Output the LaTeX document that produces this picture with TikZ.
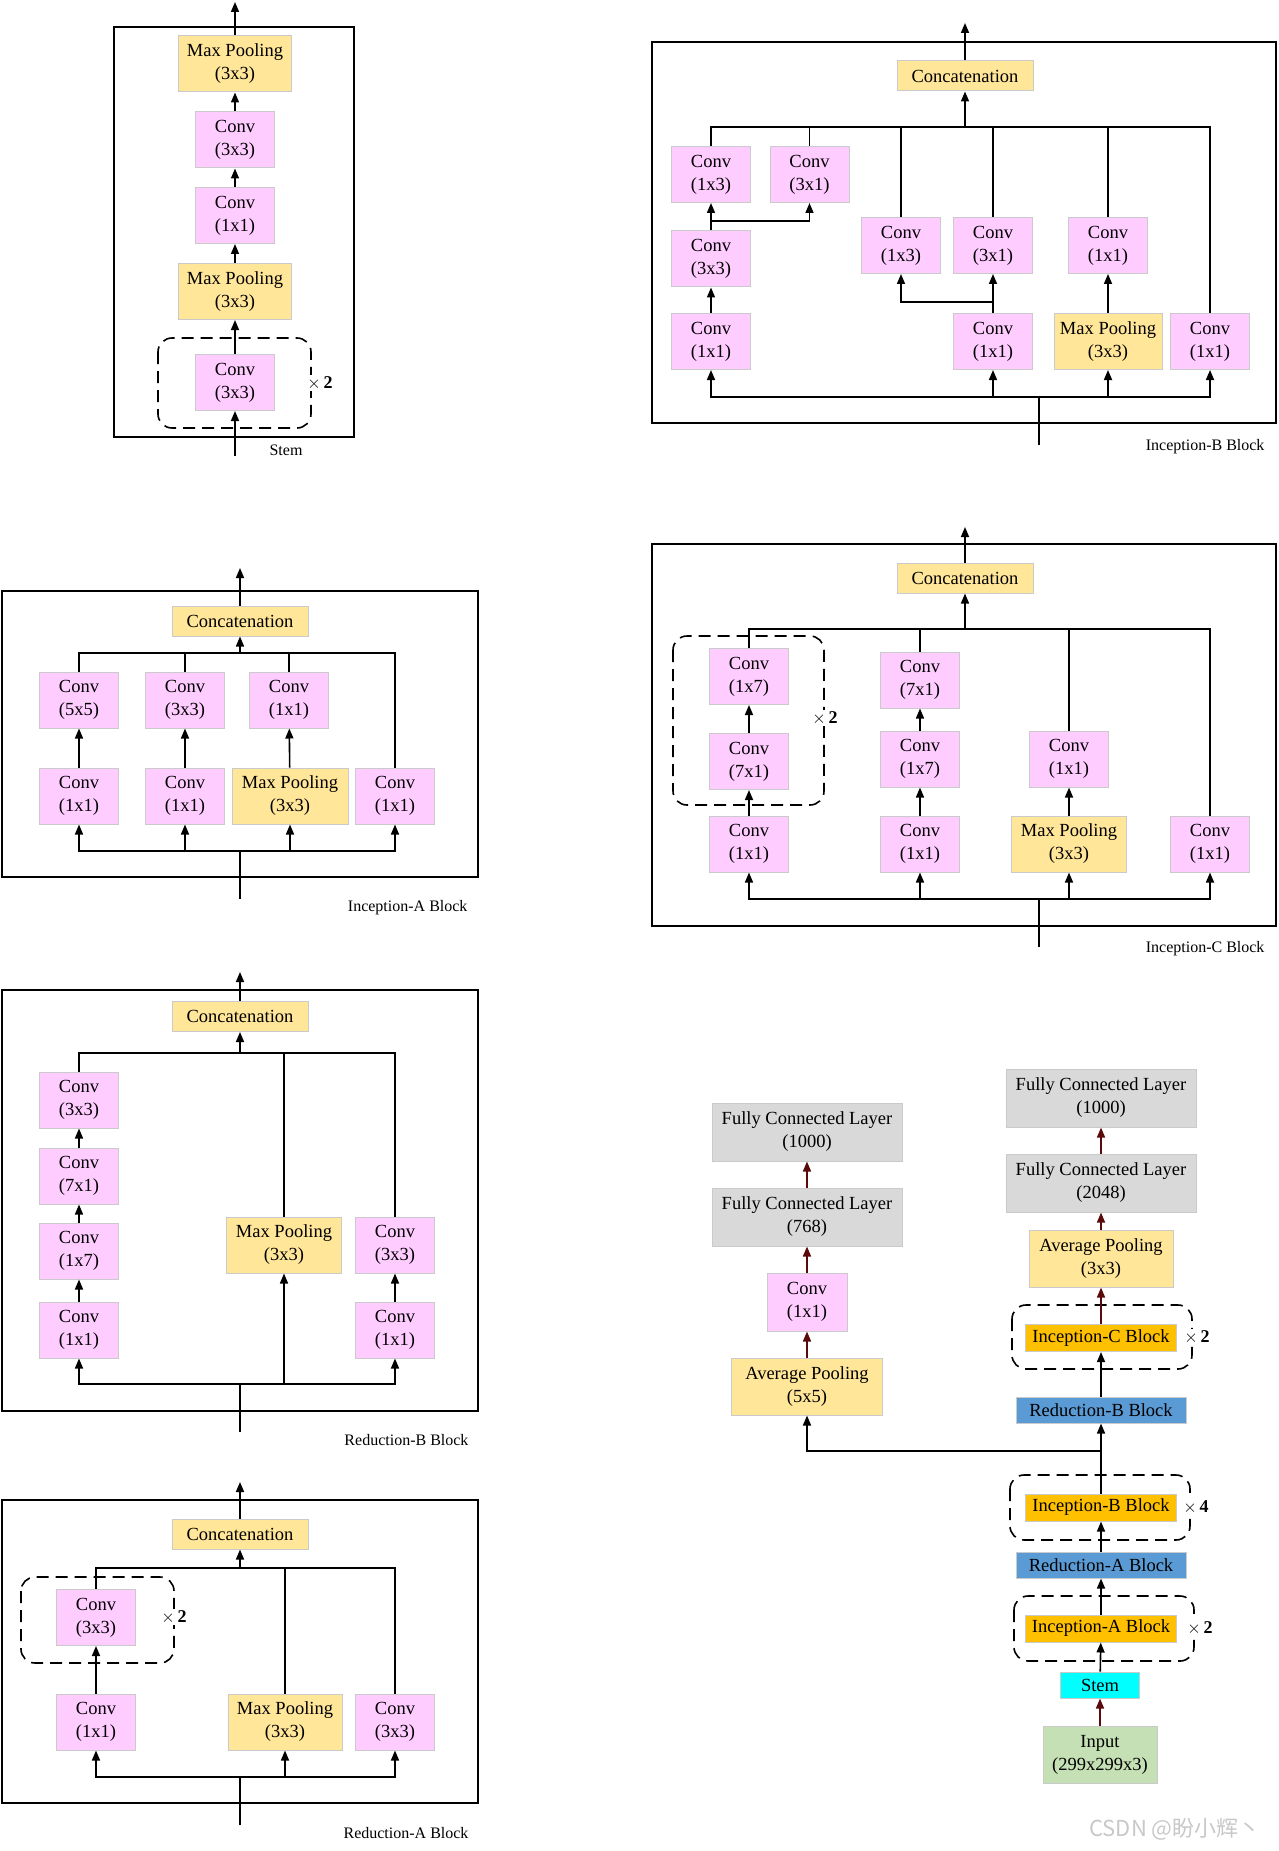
\documentclass[tikz,border=0pt]{standalone}
\usepackage{fontspec}
\setmainfont{Liberation Serif}
\newfontfamily\cjk{Noto Sans CJK SC}
\usepackage{tikz}
\usetikzlibrary{arrows.meta}
\definecolor{convpink}{HTML}{FFCCFF}
\definecolor{poolyel}{HTML}{FFE699}
\definecolor{fcgray}{HTML}{D9D9D9}
\definecolor{incorange}{HTML}{FFC000}
\definecolor{redblue}{HTML}{5B9BD5}
\definecolor{stemcyan}{HTML}{00FFFF}
\definecolor{inpgreen}{HTML}{C5E0B4}
\definecolor{edge}{HTML}{CACACA}
\definecolor{maroon}{HTML}{5A0A0A}
\definecolor{wmark}{HTML}{C8C8C8}
\tikzset{
  box/.style={draw=edge, line width=1pt, align=center, inner sep=0pt,
    font=\fontsize{18.5}{23}\selectfont},
  conv/.style={box, fill=convpink, minimum width=79pt, minimum height=56pt},
  pool/.style={box, fill=poolyel, minimum width=114pt, minimum height=56pt},
  concat/.style={box, fill=poolyel, minimum width=136pt, minimum height=30pt},
  fc/.style={box, fill=fcgray, minimum width=190pt, minimum height=58pt},
  incep/.style={box, fill=incorange, minimum width=151pt, minimum height=27pt},
  reduc/.style={box, fill=redblue, minimum width=170pt, minimum height=26pt},
  frame/.style={draw, line width=1.6pt},
  rep/.style={draw, line width=1.6pt, dash pattern=on 12pt off 7pt, rounded corners=14pt},
  ln/.style={line width=1.6pt},
  arr/.style={ln, -{Triangle[length=10pt,width=8pt]}},
  arrm/.style={arr, draw=maroon},
  times/.style={fill=white, inner sep=1pt, font=\fontsize{18}{20}\selectfont},
  blockcap/.style={font=\fontsize{16}{18}\selectfont, anchor=east},
}
\begin{document}
\begin{tikzpicture}[x=1pt,y=-1pt]
  \useasboundingbox (0,0) rectangle (1278,1851);

  % ---- Stem ----
  \draw[frame] (114,27) rectangle (354,437);
  \node[pool, minimum width=113pt] (sP2) at (235,64) {Max Pooling\\(3x3)};
  \node[conv] (sC3) at (235,140) {Conv\\(3x3)};
  \node[conv] (sC2) at (235,215.5) {Conv\\(1x1)};
  \node[pool, minimum width=113pt] (sP1) at (235,291.5) {Max Pooling\\(3x3)};
  \node[conv] (sC1) at (235,382.5) {Conv\\(3x3)};
  \draw[rep] (158,338) rectangle (311,428);
  \node[times] (sRep) at (320,383) {$\times$\,\textbf{2}};
  \coordinate (sOut) at (235,2);
  \coordinate (sIn) at (235,456);
  \draw[arr] (sIn) -- (sC1);
  \draw[arr] (sC1) -- (sP1);
  \draw[arr] (sP1) -- (sC2);
  \draw[arr] (sC2) -- (sC3);
  \draw[arr] (sC3) -- (sP2);
  \draw[arr] (sP2) -- (sOut);
  \node[blockcap] (sCap) at (306,450) {Stem};

  % ---- Inception-B ----
  \draw[frame] (652,42) rectangle (1276,423);
  \node[concat] (bCat) at (965,76) {Concatenation};
  \node[conv] (bA3) at (711,174.5) {Conv\\(1x3)};
  \node[conv] (bA2) at (711,259) {Conv\\(3x3)};
  \node[conv] (bA1) at (711,341.5) {Conv\\(1x1)};
  \node[conv] (bB) at (809.5,174.5) {Conv\\(3x1)};
  \node[conv] (bC2) at (901,245.5) {Conv\\(1x3)};
  \node[conv] (bD2) at (993,245.5) {Conv\\(3x1)};
  \node[conv] (bD1) at (993,341.5) {Conv\\(1x1)};
  \node[conv] (bE2) at (1108,245.5) {Conv\\(1x1)};
  \node[pool, minimum width=108pt] (bE1) at (1108,341.5) {Max Pooling\\(3x3)};
  \node[conv] (bF) at (1210,341.5) {Conv\\(1x1)};
  \coordinate (bOut) at (965,23);
  \coordinate (bHub) at (965,127);
  \coordinate (bSplitA) at (711,221);
  \coordinate (bSplitD) at (993,302);
  \coordinate (bBar) at (1039,397);
  \coordinate (bIn) at (1039,445);
  \foreach \n in {bA3,bB,bC2,bD2,bE2,bF}
    \draw[ln] (\n) |- (bHub);
  \draw[arr] (bHub) -- (bCat);
  \draw[arr] (bCat) -- (bOut);
  \draw[arr] (bA1) -- (bA2);
  \draw[arr] (bA2) -- (bA3);
  \draw[arr] (bSplitA) -| (bB);
  \draw[arr] (bD1) -- (bD2);
  \draw[arr] (bSplitD) -| (bC2);
  \draw[arr] (bE1) -- (bE2);
  \draw[ln] (bIn) -- (bBar);
  \foreach \n in {bA1,bD1,bE1,bF}
    \draw[arr] (bBar) -| (\n);
  \node[blockcap] (bCap) at (1268,447) {Inception-B Block};

  % ---- Inception-A ----
  \draw[frame] (2,591) rectangle (478,877);
  \node[concat] (aCat) at (240,621) {Concatenation};
  \node[conv] (aT1) at (79,700) {Conv\\(5x5)};
  \node[conv] (aT2) at (185,700) {Conv\\(3x3)};
  \node[conv] (aT3) at (289,700) {Conv\\(1x1)};
  \node[conv] (aB1) at (79,796) {Conv\\(1x1)};
  \node[conv] (aB2) at (185,796) {Conv\\(1x1)};
  \node[pool, minimum width=116pt] (aB3) at (290,796) {Max Pooling\\(3x3)};
  \node[conv] (aB4) at (395,796) {Conv\\(1x1)};
  \coordinate (aOut) at (240,568);
  \coordinate (aHub) at (240,653);
  \coordinate (aBar) at (240,851);
  \coordinate (aIn) at (240,899);
  \foreach \n in {aT1,aT2,aT3,aB4}
    \draw[ln] (\n) |- (aHub);
  \draw[arr] (aHub) -- (aCat);
  \draw[arr] (aCat) -- (aOut);
  \draw[arr] (aB1) -- (aT1);
  \draw[arr] (aB2) -- (aT2);
  \draw[arr] (aB3) -- (aT3);
  \draw[ln] (aIn) -- (aBar);
  \foreach \n in {aB1,aB2,aB3,aB4}
    \draw[arr] (aBar) -| (\n);
  \node[blockcap] (aCap) at (471,908) {Inception-A Block};

  % ---- Inception-C ----
  \draw[frame] (652,544) rectangle (1276,926);
  \node[concat] (cCat) at (965,578) {Concatenation};
  \node[conv] (cA3) at (749,676.5) {Conv\\(1x7)};
  \node[conv] (cA2) at (749,761.5) {Conv\\(7x1)};
  \node[conv] (cA1) at (749,844) {Conv\\(1x1)};
  \node[conv] (cB3) at (920,680) {Conv\\(7x1)};
  \node[conv] (cB2) at (920,759) {Conv\\(1x7)};
  \node[conv] (cB1) at (920,844) {Conv\\(1x1)};
  \node[conv] (cC2) at (1069,759) {Conv\\(1x1)};
  \node[pool, minimum width=115pt] (cC1) at (1069,844) {Max Pooling\\(3x3)};
  \node[conv] (cD) at (1210,844) {Conv\\(1x1)};
  \draw[rep] (673,636) rectangle (824,805);
  \node[times] (cRep) at (825,718) {$\times$\,\textbf{2}};
  \coordinate (cOut) at (965,527);
  \coordinate (cHub) at (965,629);
  \coordinate (cBar) at (1039,899);
  \coordinate (cIn) at (1039,947);
  \foreach \n in {cA3,cB3,cC2,cD}
    \draw[ln] (\n) |- (cHub);
  \draw[arr] (cHub) -- (cCat);
  \draw[arr] (cCat) -- (cOut);
  \draw[arr] (cA1) -- (cA2);
  \draw[arr] (cA2) -- (cA3);
  \draw[arr] (cB1) -- (cB2);
  \draw[arr] (cB2) -- (cB3);
  \draw[arr] (cC1) -- (cC2);
  \draw[ln] (cIn) -- (cBar);
  \foreach \n in {cA1,cB1,cC1,cD}
    \draw[arr] (cBar) -| (\n);
  \node[blockcap] (cCap) at (1268,949) {Inception-C Block};

  % ---- Reduction-B ----
  \draw[frame] (2,990) rectangle (478,1411);
  \node[concat] (rbCat) at (240,1016.5) {Concatenation};
  \node[conv] (rbA4) at (79,1100) {Conv\\(3x3)};
  \node[conv] (rbA3) at (79,1176) {Conv\\(7x1)};
  \node[conv] (rbA2) at (79,1251) {Conv\\(1x7)};
  \node[conv] (rbA1) at (79,1330) {Conv\\(1x1)};
  \node[pool, minimum width=115pt] (rbM) at (284,1245) {Max Pooling\\(3x3)};
  \node[conv] (rbC2) at (395,1245) {Conv\\(3x3)};
  \node[conv] (rbC1) at (395,1330) {Conv\\(1x1)};
  \coordinate (rbOut) at (240,972);
  \coordinate (rbHub) at (240,1053);
  \coordinate (rbBar) at (240,1384);
  \coordinate (rbIn) at (240,1432);
  \foreach \n in {rbA4,rbM,rbC2}
    \draw[ln] (\n) |- (rbHub);
  \draw[arr] (rbHub) -- (rbCat);
  \draw[arr] (rbCat) -- (rbOut);
  \draw[arr] (rbA1) -- (rbA2);
  \draw[arr] (rbA2) -- (rbA3);
  \draw[arr] (rbA3) -- (rbA4);
  \draw[arr] (rbC1) -- (rbC2);
  \draw[ln] (rbIn) -- (rbBar);
  \foreach \n in {rbA1,rbM,rbC1}
    \draw[arr] (rbBar) -| (\n);
  \node[blockcap] (rbCap) at (472,1440) {Reduction-B Block};

  % ---- Reduction-A ----
  \draw[frame] (2,1500) rectangle (478,1803);
  \node[concat] (raCat) at (240,1534) {Concatenation};
  \node[conv] (raA2) at (96,1617.5) {Conv\\(3x3)};
  \node[conv] (raA1) at (96,1722) {Conv\\(1x1)};
  \node[pool, minimum width=114pt] (raM) at (285,1722) {Max Pooling\\(3x3)};
  \node[conv] (raC) at (395,1722) {Conv\\(3x3)};
  \draw[rep] (21,1577) rectangle (174,1663);
  \node[times] (raRep) at (174,1617) {$\times$\,\textbf{2}};
  \coordinate (raOut) at (240,1482);
  \coordinate (raHub) at (240,1568);
  \coordinate (raBar) at (240,1777);
  \coordinate (raIn) at (240,1825);
  \foreach \n in {raA2,raM,raC}
    \draw[ln] (\n) |- (raHub);
  \draw[arr] (raHub) -- (raCat);
  \draw[arr] (raCat) -- (raOut);
  \draw[arr] (raA1) -- (raA2);
  \draw[ln] (raIn) -- (raBar);
  \foreach \n in {raA1,raM,raC}
    \draw[arr] (raBar) -| (\n);
  \node[blockcap] (raCap) at (472,1833) {Reduction-A Block};

  % ---- whole network ----
  \node[fc] (oAuxFc2) at (807,1132) {Fully Connected Layer\\(1000)};
  \node[fc] (oAuxFc1) at (807,1217) {Fully Connected Layer\\(768)};
  \node[conv, minimum width=80pt, minimum height=58pt] (oAuxConv) at (807,1302) {Conv\\(1x1)};
  \node[pool, minimum width=151pt, minimum height=57pt] (oAuxAvg) at (807,1386.5) {Average Pooling\\(5x5)};
  \node[fc] (oFc2) at (1101,1098) {Fully Connected Layer\\(1000)};
  \node[fc] (oFc1) at (1101,1183) {Fully Connected Layer\\(2048)};
  \node[pool, minimum width=144pt, minimum height=57pt] (oAvg) at (1101,1258.5) {Average Pooling\\(3x3)};
  \node[incep] (oIncC) at (1101,1338) {Inception-C Block};
  \node[reduc] (oRedB) at (1101,1410) {Reduction-B Block};
  \node[incep] (oIncB) at (1101,1507.5) {Inception-B Block};
  \node[reduc] (oRedA) at (1101,1565) {Reduction-A Block};
  \node[incep] (oIncA) at (1101,1628.5) {Inception-A Block};
  \node[box, fill=stemcyan, minimum width=79pt, minimum height=26pt] (oStem) at (1100,1685) {Stem};
  \node[box, fill=inpgreen, minimum width=114pt, minimum height=57pt] (oInput) at (1100,1754.5) {Input\\(299x299x3)};
  \draw[rep] (1012,1305) rectangle (1192,1369);
  \draw[rep] (1010,1475) rectangle (1190,1540);
  \draw[rep] (1014,1596) rectangle (1194,1661);
  \node[times] (oRepC) at (1197,1337) {$\times$\,\textbf{2}};
  \node[times] (oRepB) at (1196,1507) {$\times$\,\textbf{4}};
  \node[times] (oRepA) at (1200,1628) {$\times$\,\textbf{2}};
  \coordinate (oSplit) at (1101,1451);
  \draw[arrm] (oInput) -- (oStem);
  \draw[arr] (oStem) -- (oIncA);
  \draw[arr] (oIncA) -- (oRedA);
  \draw[arr] (oRedA) -- (oIncB);
  \draw[arr] (oIncB) -- (oRedB);
  \draw[arr] (oSplit) -| (oAuxAvg);
  \draw[arr] (oRedB) -- (oIncC);
  \draw[arrm] (oIncC) -- (oAvg);
  \draw[arrm] (oAvg) -- (oFc1);
  \draw[arrm] (oFc1) -- (oFc2);
  \draw[arrm] (oAuxAvg) -- (oAuxConv);
  \draw[arrm] (oAuxConv) -- (oAuxFc1);
  \draw[arrm] (oAuxFc1) -- (oAuxFc2);

  \node[text=wmark, font=\cjk\fontsize{22}{24}\selectfont] (wm) at (1175,1829) {CSDN @盼小辉丶};
\end{tikzpicture}
\end{document}
